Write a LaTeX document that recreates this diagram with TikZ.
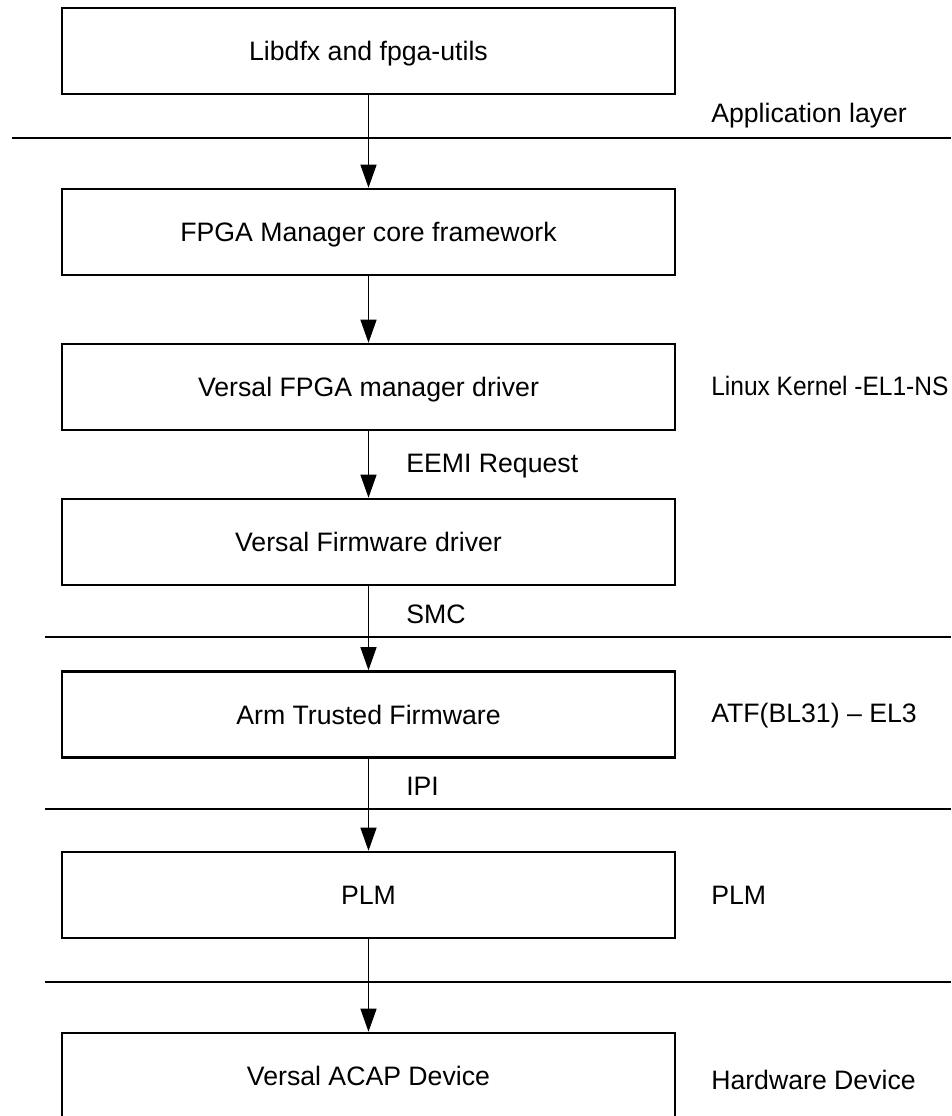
\documentclass[tikz,border=0pt]{standalone}
\usepackage{fontspec}
\usepackage{graphicx}
\setmainfont{Liberation Sans}
\usetikzlibrary{arrows.meta}
\begin{document}
\begin{tikzpicture}[x=0.75pt,y=-0.75pt,
  box/.style={draw=black,line width=1.9pt,minimum width=459.75pt,minimum height=64.5pt,
    inner sep=0pt,text height=14.3pt,text depth=0pt,font=\fontsize{20}{24}\selectfont},
  lbl/.style={inner sep=0pt,anchor=base west,font=\fontsize{20}{24}\selectfont},
  arr/.style={line width=0.9pt,-{Triangle[length=17.25pt,width=12pt]}},
  sep/.style={line width=1pt}]
\useasboundingbox (0,0) rectangle (951,1116);
\clip (0,0) rectangle (951,1116);
% boxes
\node[box] (b1) at (368.5,51) {Libdfx and fpga-utils};
\node[box] (b2) at (368.5,232) {FPGA Manager core framework};
\node[box] (b3) at (368.5,387) {Versal FPGA manager driver};
\node[box] (b4) at (368.5,542) {Versal Firmware driver};
\node[box] (b5) at (368.5,714.5) {Arm Trusted Firmware};
\node[box] (b6) at (368.5,895) {PLM};
\node[box] (b7) at (368.5,1076) {Versal ACAP Device};
% separators
\draw[sep] (12,138) -- (951,138);
\draw[line width=2pt] (12,138) -- (86,138);
\draw[sep] (45,637) -- (951,637);
\draw[sep] (45,809) -- (951,809);
\draw[sep] (45,982) -- (951,982);
% arrows
\draw[arr] (b1) -- (b2);
\draw[arr] (b2) -- (b3);
\draw[arr] (b3) -- (b4);
\draw[arr] (b4) -- (b5);
\draw[arr] (b5) -- (b6);
\draw[arr] (b6) -- (b7);
% arrow labels
\node[lbl] (eemi) at (406,472) {EEMI Request};
\node[lbl] (smc) at (406,623) {SMC};
\node[lbl] (ipi) at (406,795) {IPI};
% layer labels
\node[lbl] (app) at (711,123) {Application layer};
\node[lbl] (linux) at (711,395) {\scalebox{0.92}[1]{Linux Kernel -EL1-NS}};
\node[lbl] (atf) at (711,722) {ATF(BL31) – EL3};
\node[lbl] (plm) at (711,904) {PLM};
\node[lbl] (hw) at (711,1089) {Hardware Device};
\end{tikzpicture}
\end{document}
